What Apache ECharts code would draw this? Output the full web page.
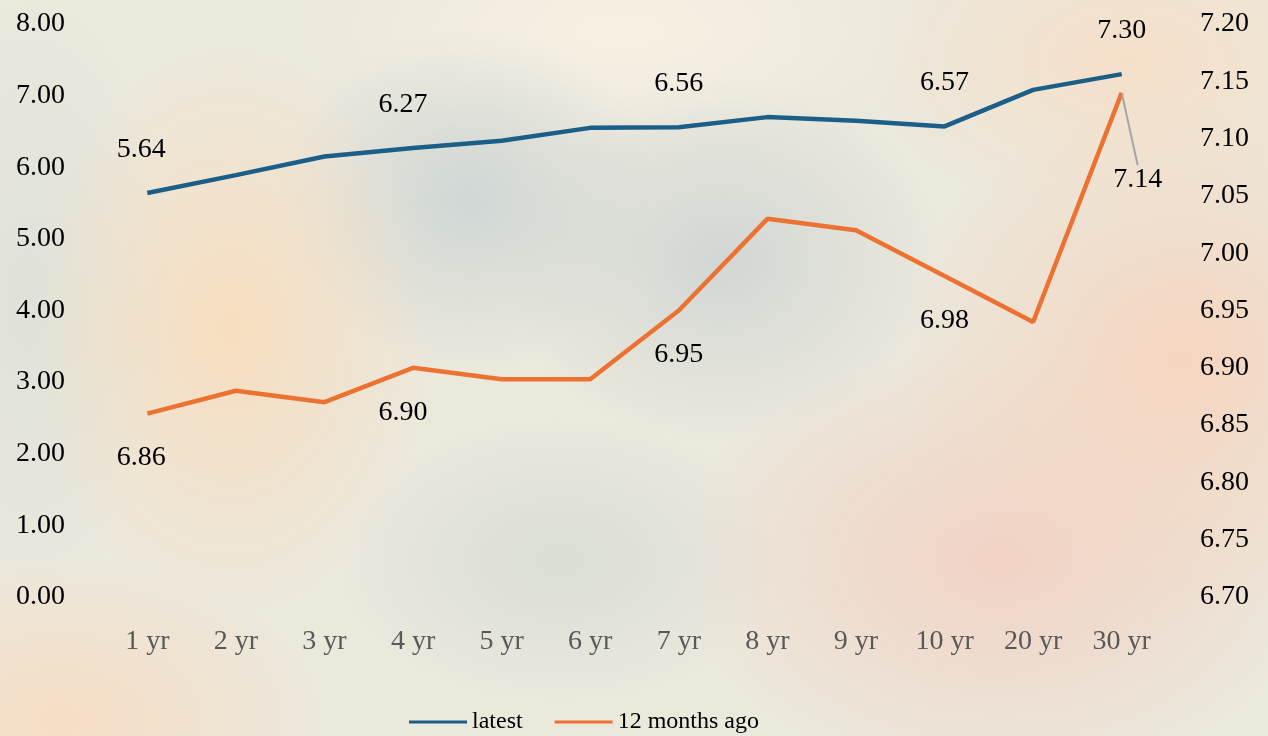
<!DOCTYPE html>
<html>
<head>
<meta charset="utf-8">
<script src="https://cdn.jsdelivr.net/npm/echarts@6/dist/echarts.min.js"></script>
<style>
html,body{margin:0;padding:0;}
#bg{position:absolute;left:0;top:0;width:1268px;height:736px;
background:
radial-gradient(ellipse 200px 280px at 230px 330px, rgba(250,220,186,0.85), rgba(250,220,186,0) 100%),
radial-gradient(ellipse 280px 260px at 1180px 360px, rgba(246,212,190,0.95), rgba(246,212,190,0) 100%),
radial-gradient(ellipse 320px 220px at 1000px 560px, rgba(242,208,194,0.9), rgba(242,208,194,0) 100%),
radial-gradient(ellipse 260px 160px at 1130px 60px, rgba(248,222,198,0.85), rgba(248,222,198,0) 100%),
radial-gradient(ellipse 260px 160px at 60px 720px, rgba(248,220,194,0.9), rgba(248,220,194,0) 100%),
radial-gradient(ellipse 190px 170px at 470px 200px, rgba(206,214,212,0.95), rgba(206,214,212,0) 100%),
radial-gradient(ellipse 220px 180px at 720px 260px, rgba(208,214,212,0.95), rgba(208,214,212,0) 100%),
radial-gradient(ellipse 220px 140px at 560px 560px, rgba(214,220,212,0.85), rgba(214,220,212,0) 100%),
radial-gradient(ellipse 140px 300px at 30px 300px, rgba(220,224,216,0.8), rgba(220,224,216,0) 100%),
radial-gradient(ellipse 320px 130px at 620px 30px, rgba(248,242,228,0.95), rgba(248,242,228,0) 100%),
#ebe8dc;}
#main{position:absolute;left:0;top:0;width:1268px;height:736px;}
</style>
</head>
<body>
<div id="bg"></div>
<div id="main"></div>
<script>
const categories = ['1 yr','2 yr','3 yr','4 yr','5 yr','6 yr','7 yr','8 yr','9 yr','10 yr','20 yr','30 yr'];
const latest = [5.64, 5.89, 6.15, 6.27, 6.37, 6.55, 6.56, 6.70, 6.65, 6.57, 7.08, 7.30];
const monthsAgo = [6.86, 6.88, 6.87, 6.90, 6.89, 6.89, 6.95, 7.03, 7.02, 6.98, 6.94, 7.14];
const labeledIdx = [0, 3, 6, 9, 11];

const FONT = '"Liberation Serif", "Times New Roman", serif';
const BLUE = '#1b5f88';
const ORANGE = '#ec7232';
const chart = echarts.init(document.getElementById('main'), null, {renderer: 'canvas'});

function lblData(arr, leaderIdx) {
  return arr.map((v, i) => ({
    value: v,
    label: {show: labeledIdx.indexOf(i) >= 0},
    labelLine: {show: i === leaderIdx}
  }));
}

chart.setOption({
  backgroundColor: 'transparent',
  animation: false,
  grid: {left: 103, right: 102, top: 24, bottom: 139},
  legend: {
    bottom: -3,
    left: 404,
    itemWidth: 58,
    itemHeight: 3,
    itemGap: 32,
    textStyle: {fontFamily: FONT, fontSize: 24, color: '#000'},
    data: [
      {name: 'latest', icon: 'rect', itemStyle: {color: BLUE, opacity: 1}},
      {name: '12 months ago', icon: 'rect', itemStyle: {color: ORANGE, opacity: 1}}
    ]
  },
  xAxis: {
    type: 'category',
    data: categories,
    boundaryGap: true,
    axisLine: {show: false},
    axisTick: {show: false},
    axisLabel: {fontFamily: FONT, fontSize: 28, color: '#595959', margin: 31}
  },
  yAxis: [
    {
      type: 'value', min: 0, max: 8, interval: 1,
      splitLine: {show: false}, axisLine: {show: false}, axisTick: {show: false},
      axisLabel: {fontFamily: FONT, fontSize: 28, color: '#000', margin: 38,
        formatter: v => v.toFixed(2)}
    },
    {
      type: 'value', min: 6.70, max: 7.20, interval: 0.05,
      splitLine: {show: false}, axisLine: {show: false}, axisTick: {show: false},
      axisLabel: {fontFamily: FONT, fontSize: 28, color: '#000', margin: 34,
        formatter: v => v.toFixed(2)}
    }
  ],
  series: [
    {
      name: 'latest', type: 'line', yAxisIndex: 0,
      data: lblData(latest, -1),
      showSymbol: true, symbol: 'circle', symbolSize: 1,
      lineStyle: {color: BLUE, width: 4.5},
      itemStyle: {color: BLUE, opacity: 0},
      label: {position: 'top', distance: 29, fontFamily: FONT, fontSize: 28, color: '#000',
        opacity: 1, formatter: p => p.value.toFixed(2)},
      labelLayout: function (params) {
        if (params.dataIndex === 0) return {dx: -6};
        if (params.dataIndex === 3) return {dx: -10};
        return {};
      }
    },
    {
      name: '12 months ago', type: 'line', yAxisIndex: 1,
      data: lblData(monthsAgo, 11),
      showSymbol: true, symbol: 'circle', symbolSize: 1,
      lineStyle: {color: ORANGE, width: 4.5},
      itemStyle: {color: ORANGE, opacity: 0},
      label: {position: 'bottom', distance: 30, fontFamily: FONT, fontSize: 28, color: '#000',
        opacity: 1, formatter: p => p.value.toFixed(2)},
      labelLine: {show: false, lineStyle: {color: '#a6a6a6', width: 2}},
      labelLayout: function (params) {
        if (params.dataIndex === 0) return {dx: -6};
        if (params.dataIndex === 3) return {dx: -10};
        if (params.dataIndex === 11) return {dx: 16, dy: 42};
        return {};
      }
    }
  ]
});
</script>
</body>
</html>
